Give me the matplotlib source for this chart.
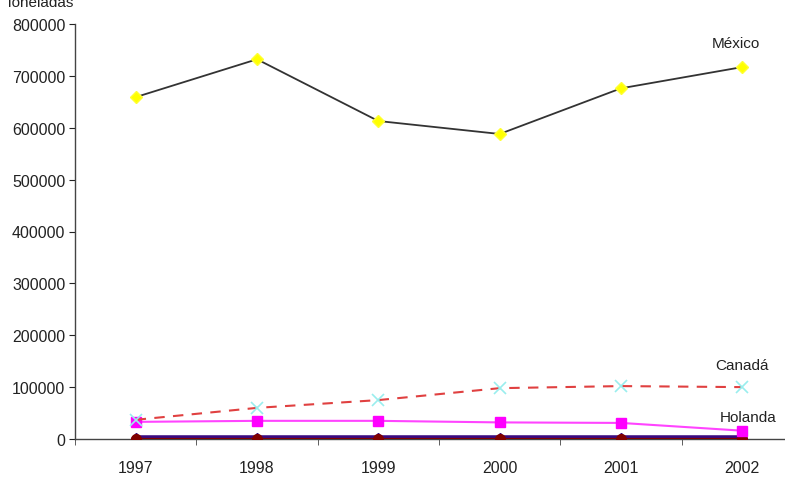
import matplotlib
matplotlib.use("Agg")
import matplotlib.pyplot as plt
from matplotlib.ticker import FixedLocator

years = ["1997", "1998", "1999", "2000", "2001", "2002"]
mexico = [659000, 732000, 613000, 588000, 676000, 717000]
canada = [37000, 60000, 75000, 98000, 102000, 100000]
holanda = [33000, 35000, 35000, 32000, 31000, 16000]
otro1 = [2000, 2000, 2000, 2000, 2000, 2000]
otro2 = [0, 0, 0, 0, 0, 0]
yticks = [0, 100000, 200000, 300000, 400000, 500000, 600000, 700000, 800000]

plt.rcParams['font.family'] = ['Liberation Sans', 'DejaVu Sans']

W, H = 785, 489
fig = plt.figure(figsize=(W/100, H/100), dpi=100)
left, right, top, bottom = 75, 803, 25, 440
ax = fig.add_axes([left/W, (H-bottom)/H, (right-left)/W, (bottom-top)/H])

x = list(range(len(years)))
ax.plot(x, otro2, color='#800000', lw=1.5, marker='o', ms=7, mfc='#800000', mec='#800000', zorder=3)
ax.plot(x, otro1, color='#3a0a80', lw=4, marker='D', ms=5, mfc='#3a0a80', zorder=2)
ax.plot(x, holanda, color='#ff44ff', lw=1.5, marker='s', ms=7, mfc='#ff00ff', mec='#ff00ff', zorder=3)
ax.plot(x, canada, color='#e04040', lw=1.5, ls=(0, (5, 4)), marker='x', ms=8, mec='#99eeee', mew=1.2, zorder=3)
ax.plot(x, mexico, color='#333333', lw=1.3, marker='D', ms=6, mfc='#ffff00', mec='#ffff33', zorder=3)

ax.set_xlim(-0.5, 5.5)
ax.set_ylim(0, 800000)
ax.set_xticks(x)
ax.set_xticklabels(years)
ax.xaxis.set_minor_locator(FixedLocator([i - 0.5 for i in range(7)]))
ax.tick_params(axis='x', which='major', length=0, pad=15, labelsize=11.5, colors='#222222')
ax.tick_params(axis='x', which='minor', length=4, direction='out', color='#444444')
ax.set_yticks(yticks)
ax.set_yticklabels([str(v) for v in yticks])
ax.tick_params(axis='y', length=4, direction='out', labelsize=11.5, colors='#222222', pad=3)
for s in ['top', 'right']:
    ax.spines[s].set_visible(False)
for s in ['left', 'bottom']:
    ax.spines[s].set_color('#444444')
    ax.spines[s].set_linewidth(1)

ax.text(4.95, 750000, "México", fontsize=11, ha='center', va='bottom', color='#222222')
ax.text(5.0, 130000, "Canadá", fontsize=11, ha='center', va='bottom', color='#222222')
ax.text(5.05, 28000, "Holanda", fontsize=11, ha='center', va='bottom', color='#222222')
fig.text(5/W, 1 + 4/H, "Toneladas", fontsize=11, ha='left', va='top', color='#222222')

fig.savefig("out.png", dpi=100)
